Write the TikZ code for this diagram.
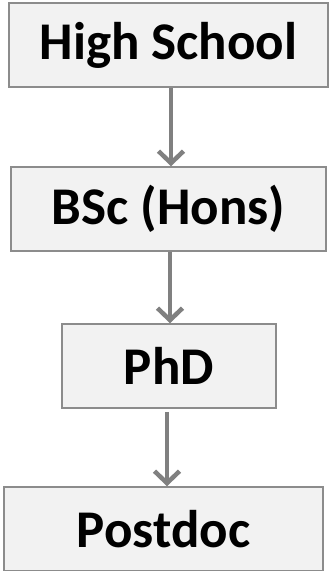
\documentclass[tikz,border=0pt]{standalone}
\usepackage{fontspec}
\setmainfont{Carlito}
\usetikzlibrary{arrows.meta}
\tikzset{
  stage/.style={draw=gray!90,line width=1.5pt,fill=black!5,minimum height=84pt,
    inner sep=0pt,font=\fontsize{53}{60}\selectfont\bfseries},
  flow/.style={draw=gray,line width=4.5pt,-{Straight Barb[length=12pt,width=25pt,line width=4.5pt]}}
}
\begin{document}
\begin{tikzpicture}[x=1pt,y=-1pt]
    \useasboundingbox (0,0) rectangle (329,571);
    \node[stage,minimum width=319pt] (hs) at (168.5,45) {High School};
    \node[stage,minimum width=315pt] (bsc) at (168.5,209) {BSc (Hons)};
    \node[stage,minimum width=214pt] (phd) at (169,366) {PhD};
    \node[stage,minimum width=319pt] (pd) at (163.5,529) {Postdoc};
    \draw[flow] (hs.south -| 171,0) -- (bsc.north -| 171,0);
    \draw[flow] (bsc.south -| 170,0) -- (phd.north -| 170,0);
    \draw[flow] ([yshift=-3pt]phd.south -| 167,0) -- (pd.north -| 167,0);
\end{tikzpicture}
\end{document}
